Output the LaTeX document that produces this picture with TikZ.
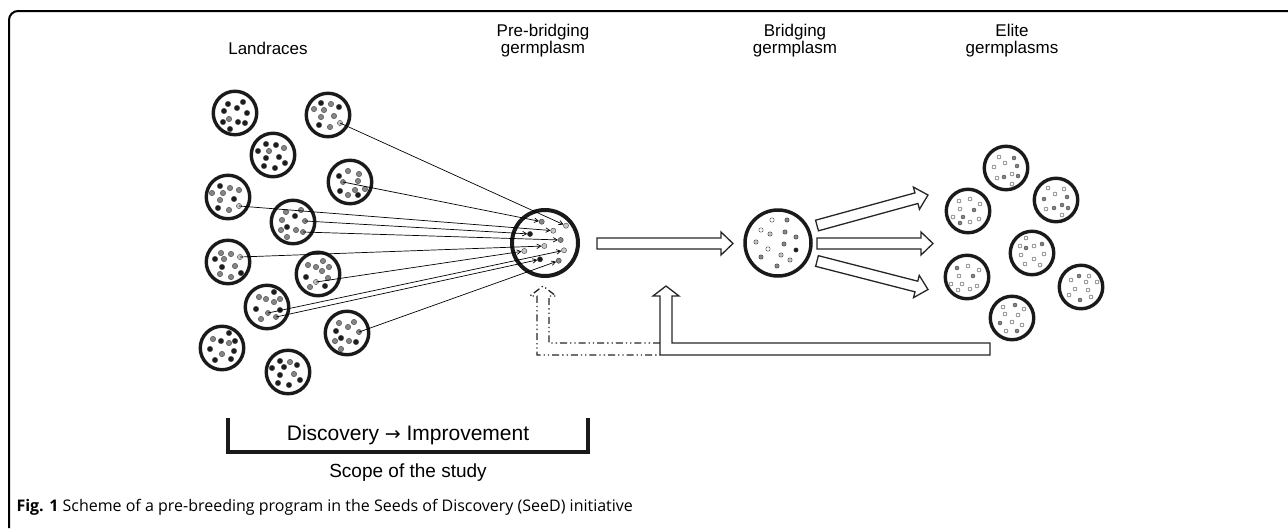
\documentclass[tikz,border=0pt]{standalone}
\usepackage{fontspec}
\setsansfont{Liberation Sans}
\newfontfamily\capfont{Open Sans}
\newfontfamily\arrowfont{DejaVu Sans}
\usetikzlibrary{positioning, arrows.meta, calc}

% scatter of seeds inside a pool: centre, dot radius, list dx/dy/tone
\newcommand{\sow}[3]{%
  \foreach \dx/\dy/\c in {#3}
    \path[seed=\c] ($(#1)+(\dx,\dy)$) circle[radius=#2pt];}

% hollow block arrow from #1 to #2
\newcommand{\blockarrow}[2]{%
  \path ($(#2)!12pt!(#1)$) coordinate (hb);
  \draw[hollow] ($(#1)!5.5pt!-90:(#2)$) -- ($(hb)!5.5pt!-90:(#2)$)
    -- ($(hb)!11.5pt!-90:(#2)$) -- (#2) -- ($(hb)!11.5pt!90:(#2)$)
    -- ($(hb)!5.5pt!90:(#2)$) -- ($(#1)!5.5pt!90:(#2)$) -- cycle;}

\begin{document}
\begin{tikzpicture}[
    x=1pt, y=-1pt,
    font=\sffamily\fontsize{17}{17}\selectfont,
]
% ── Colours ──
\definecolor{ring}{HTML}{1A1A1A}
\definecolor{dotk}{HTML}{1C1C1C}
\definecolor{dotg}{HTML}{858585}
\definecolor{dotl}{HTML}{C6C6C6}
\definecolor{doto}{HTML}{FFFFFF}

% ── Styles ──
\tikzset{
    landrace/.style={circle, draw=ring, line width=3.4pt, minimum size=43.5pt, inner sep=0pt},
    pool/.style={circle, draw=ring, line width=4pt, minimum size=66pt, inner sep=0pt},
    seed/.style={fill=dot#1, draw=black!75, line width=0.4pt},
    seednode/.style={circle, inner sep=0pt, minimum size=5.2pt, seed=#1},
    feed/.style={-{Straight Barb[length=4pt,width=4.5pt]}, line width=0.7pt},
    hollow/.style={draw=black!85, fill=white, line width=1.3pt},
    backdash/.style={draw=black!85, line width=1.3pt,
        dash pattern=on 7pt off 3pt on 1.3pt off 3pt on 1.3pt off 3pt},
    bracket/.style={draw=ring, line width=4pt},
    stage/.style={align=center},
}

\useasboundingbox (0,0) rectangle (1288,528);
\draw[line width=2pt, rounded corners=9pt] (9,528) -- (9,11) -- (1288,11);

% ── Stage labels ──
\node[stage] (lland) at (268,48) {Landraces};
\node[stage] (lpre) at (543,41) {Pre-bridging\\germplasm};
\node[stage] (lbri) at (795,41) {Bridging\\germplasm};
\node[stage] (lelite) at (1012,41) {Elite\\germplasms};

% ── Landraces ──
\node[landrace] (L1) at (235,113) {};
\node[landrace] (L2) at (328,115) {};
\node[landrace] (L3) at (273,155) {};
\node[landrace] (L4) at (350,182) {};
\node[landrace] (L5) at (228,197) {};
\node[landrace] (L6) at (293,222) {};
\node[landrace] (L7) at (228,262) {};
\node[landrace] (L8) at (318,274) {};
\node[landrace] (L9) at (267,307) {};
\node[landrace] (L10) at (347,333) {};
\node[landrace] (L11) at (222,348) {};
\node[landrace] (L12) at (288,372) {};

\sow{L1}{2.7}{-7/-9/k, 8/-11/k, -11/-2/k, 2/-5/k, 12/0/k, -6/6/g, -12/9/k, 3/9/k, 10/10/k, -5/16/k}
\sow{L2}{2.7}{-7/-12/k, 3/-11/g, 11/-8/k, -14/-6/g, -4/-5/g, 6/1/g, -7/2/g, -9/10/k, 2/12/g}
\sow{L3}{2.7}{-7/-11/k, 3/-10/k, 11/-7/g, -15/-4/k, -4/-4/g, -7/3/k, 6/2/k, 12/8/k, -9/11/k, 2/13/k}
\sow{L4}{2.7}{-2/-11/g, 9/-8/g, -11/-6/k, 8/-1/g, 5/8/g, 15/7/g, -10/9/k, -2/13/g, 8/13/k}
\sow{L5}{2.7}{-8/-11/k, 2/-9/g, 11/-7/g, -16/-4/g, -5/-4/g, 6/2/k, -8/3/g, -10/11/k, 1/13/g}
\sow{L6}{2.7}{-7/-10/g, 8/-12/g, 2/-6/k, -11/-2/g, -6/5/k, -12/8/g, 3/8/g, -6/15/g}
\sow{L7}{2.7}{-7/-9/g, 3/-8/g, -13/-3/k, -4/-3/g, -6/5/k, 7/4/g, -8/12/g, 3/15/g, 13/11/k}
\sow{L8}{2.7}{-10/-9/g, -2/-7/g, 5/-13/g, 4/-3/g, 11/-7/g, -12/3/k, 10/4/g, -8/13/g, 7/12/k}
\sow{L9}{2.7}{-8/-10/g, -1/-8/g, 7/-15/k, 7/-5/g, 13/-8/g, -11/2/k, 13/3/k, -6/12/g}
\sow{L10}{2.7}{-8/-10/g, 1/-6/g, 7/-11/g, -11/-2/k, -6/5/k, -12/8/g, 2/8/g, 9/9/k, -6/16/g}
\sow{L11}{2.7}{7/-15/k, -9/-9/g, -1/-7/k, 7/-5/g, 13/-7/k, -12/1/k, 0/6/g, 12/3/k, -7/12/k, 9/11/k}
\sow{L12}{2.7}{-8/-11/k, 2/-10/g, -16/-4/k, -4/-5/k, 9/-7/k, -8/3/k, 6/2/g, 12/8/k, -10/11/k, 1/13/k}

% sources of the selected alleles
\node[seednode=l] (s1) at ($(L2)+(12,8)$) {};
\node[seednode=g] (s2) at ($(L4)+(-7,0)$) {};
\node[seednode=l] (s3) at ($(L5)+(11,9)$) {};
\node[seednode=g] (s4) at ($(L6)+(12,-1)$) {};
\node[seednode=g] (s5) at ($(L6)+(10,10)$) {};
\node[seednode=l] (s6) at ($(L7)+(12,-5)$) {};
\node[seednode=l] (s7) at ($(L8)+(-2,8)$) {};
\node[seednode=g] (s8) at ($(L9)+(1,6)$) {};
\node[seednode=g] (s9) at ($(L9)+(9,10)$) {};
\node[seednode=g] (s10) at ($(L10)+(12,-1)$) {};

% ── Pre-bridging germplasm ──
\node[pool] (pre) at (545,243) {};
\node[seednode=g] (t1) at ($(pre)+(-3.3,-21.3)$) {};
\node[seednode=l] (t2) at ($(pre)+(21,-17.3)$) {};
\node[seednode=l] (t3) at ($(pre)+(8.3,-12.3)$) {};
\node[seednode=k] (t4) at ($(pre)+(-15,-9)$) {};
\node[seednode=g] (t5) at ($(pre)+(15.7,-3)$) {};
\node[seednode=l] (t6) at ($(pre)+(-0.7,3)$) {};
\node[seednode=l] (t7) at ($(pre)+(-20.7,8)$) {};
\node[seednode=l] (t8) at ($(pre)+(19,7.3)$) {};
\node[seednode=k] (t9) at ($(pre)+(-5,16.3)$) {};
\node[seednode=g] (t10) at ($(pre)+(13.7,17.7)$) {};

\foreach \a/\b in {s1/t2, s2/t1, s3/t3, s4/t4, s5/t5, s6/t6, s7/t7, s8/t8, s9/t9, s10/t10}
    \draw[feed] (\a.center) -- (\b);

% ── Bridging germplasm ──
\node[pool, line width=3.5pt] (bridge) at (778,243) {};
\sow{bridge}{2.2}{-6/-23/o, 9/-23/g, -17/-13/o, -8/-9/l, 7/-11/g, 18/-6/g, -22/-1/l, 6/1/g, -10/6/o, 18/7/k, -17/14/g, 3/12/l, 12/17/l, -1/23/g}

% ── Elite germplasms ──
\node[landrace] (E1) at (1006,168) {};
\node[landrace] (E2) at (1056,200) {};
\node[landrace] (E3) at (968,211) {};
\node[landrace] (E4) at (1032,253) {};
\node[landrace] (E5) at (967,277) {};
\node[landrace] (E6) at (1081,287) {};
\node[landrace] (E7) at (1012,318) {};

\sow{E1}{2}{-7/-11/o, 8/-10/g, -1/-5/o, 11/-2/g, -12/-1/o, -9/10/o, -2/9/g, 6/6/o, 12/8/g, 6/16/o}
\sow{E2}{2}{-8/-12/o, -1/-6/o, 8/-11/o, -12/-1/g, 11/-3/g, -10/9/o, -2/8/g, 6/5/g, 12/8/g, 6/15/o}
\sow{E3}{2}{-9/-10/o, 2/-12/o, 12/-7/o, -8/-2/o, 6/-1/g, -15/6/o, -5/6/g, 11/8/o, -8/12/g, 2/11/o}
\sow{E4}{2}{-6/-15/o, -12/-7/o, -6/-5/g, 2/-7/o, 10/-9/g, -11/2/o, 12/1/o, 2/6/o, -7/11/o, 8/12/o}
\sow{E5}{2}{-10/-9/g, 1/-11/o, 12/-7/o, -8/-1/o, 6/-1/g, -16/7/o, -5/7/o, 10/9/o, -9/13/o, 3/12/o}
\sow{E6}{2}{-10/-7/o, -2/-11/g, 8/-11/o, 5/-5/o, 16/-5/o, -6/2/o, 7/3/o, -12/8/o, -1/13/g, 10/10/o}
\sow{E7}{2}{-9/-11/o, 3/-13/g, 12/-9/o, -7/-4/o, 6/-3/o, -12/5/g, 0/4/o, 10/7/o, -6/13/o, 5/13/g}

% ── Block arrows ──
\coordinate (a0) at ($(pre)+(52,0.5)$);
\coordinate (a1) at ($(bridge)+(-45,0.5)$);
\coordinate (up0) at ($(bridge)+(39,-17.5)$);
\coordinate (up1) at ($(bridge)+(150,-48)$);
\coordinate (mid0) at ($(bridge)+(39,0.5)$);
\coordinate (mid1) at ($(bridge)+(155,0.5)$);
\coordinate (lo0) at ($(bridge)+(39,18)$);
\coordinate (lo1) at ($(bridge)+(150,46.5)$);
\blockarrow{a0}{a1}
\blockarrow{up0}{up1}
\blockarrow{mid0}{mid1}
\blockarrow{lo0}{lo1}

% ── Feedback from elite ──
\coordinate (ret) at (990,349);
\coordinate (up) at (666,286);
\coordinate (dup) at (543,286);
\draw[hollow] (ret) ++(0,-6) -| ($(up)+(6,10)$) -- ++(7,0) -- (up) -- ++(-13,10)
    -- ++(7,0) |- ($(ret)+(0,6)$) -- cycle;
\draw[backdash] ($(up)+(-6,57)$) -| ($(dup)+(6,10)$) -- ++(7,0) -- (dup) -- ++(-13,10)
    -- ++(7,0) |- ($(up)+(-6,69)$);

% ── Scope ──
\node[font=\sffamily\fontsize{21}{23}\selectfont] (disc) at (408,435)
    {Discovery {\arrowfont\fontsize{19}{21}\selectfont →} Improvement};
\coordinate (brL) at (228,418);
\coordinate (brR) at (588,418);
\draw[bracket] (brL) -- ++(0,34) -| (brR);
\node[font=\sffamily\fontsize{19}{21}\selectfont] (scope) at (408,473) {Scope of the study};

% ── Caption ──
\node[anchor=west, font=\capfont\fontsize{16}{18}\selectfont] (cap) at (13,507)
    {\textbf{Fig. 1} Scheme of a pre-breeding program in the Seeds of Discovery (SeeD) initiative};

\end{tikzpicture}
\end{document}
